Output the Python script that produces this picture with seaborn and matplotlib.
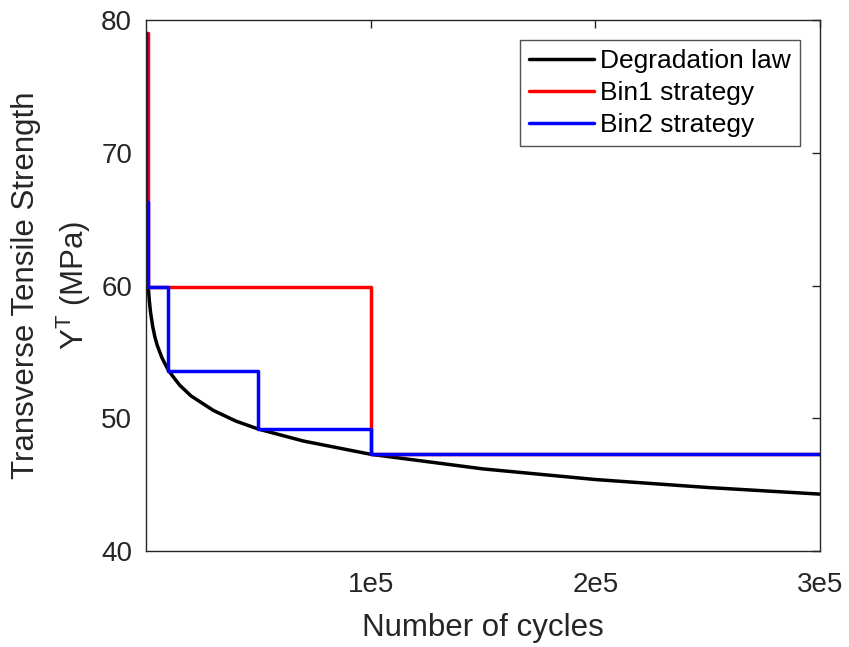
import numpy as np
import pandas as pd
import matplotlib
matplotlib.use("Agg")
import matplotlib.pyplot as plt
import seaborn as sns

# Degradation law
law_cycles = [1000, 1500, 2000, 3000, 4000, 5000, 7000, 10000, 15000, 20000, 30000,
              40000, 50000, 70000, 100000, 150000, 200000, 250000, 300000]
law_strength = [59.9, 58.8, 58.0, 56.9, 56.1, 55.5, 54.6, 53.6, 52.5, 51.7, 50.6,
                49.8, 49.2, 48.3, 47.3, 46.2, 45.4, 44.8, 44.3]

# Bin1 strategy step edges and levels
bin1_edges = [0, 1000, 100000, 300000]
bin1_levels = [79.0, 59.9, 47.3]

# Bin2 strategy step edges and levels
bin2_edges = [0, 100, 1000, 10000, 50000, 100000, 300000]
bin2_levels = [79.0, 66.3, 59.9, 53.6, 49.2, 47.3]

def steps(edges, levels):
    xs, ys = [], []
    for i, lv in enumerate(levels):
        xs += [edges[i], edges[i + 1]]
        ys += [lv, lv]
    return xs, ys

sns.set_theme(style="white")
plt.rcParams['font.family'] = ['Liberation Sans', 'DejaVu Sans']
plt.rcParams['mathtext.fontset'] = 'custom'
plt.rcParams['mathtext.rm'] = 'Liberation Sans'
tc = '#262626'

fig, ax = plt.subplots(figsize=(8.49, 6.47), dpi=100)
fig.subplots_adjust(left=0.172, right=0.966, top=0.969, bottom=0.148)

lw = 2.5
df_law = pd.DataFrame({'x': law_cycles, 'y': law_strength})
sns.lineplot(data=df_law, x='x', y='y', ax=ax, color='black', lw=lw,
             label='Degradation law', sort=False, estimator=None)
x1, y1 = steps(bin1_edges, bin1_levels)
sns.lineplot(x=x1, y=y1, ax=ax, color='#ff0000', lw=lw, label='Bin1 strategy',
             sort=False, estimator=None)
x2, y2 = steps(bin2_edges, bin2_levels)
sns.lineplot(x=x2, y=y2, ax=ax, color='#0000ff', lw=lw, label='Bin2 strategy',
             sort=False, estimator=None)

ax.set_xlim(0, 300000)
ax.set_ylim(40, 80)
ax.set_xticks([100000, 200000, 300000])
ax.set_xticklabels(['1e5', '2e5', '3e5'])
ax.set_yticks([40, 50, 60, 70, 80])
ax.tick_params(direction='in', length=6, width=1, colors=tc, labelsize=20,
               top=True, right=True, labelcolor=tc)
ax.tick_params(axis='x', pad=15)
ax.tick_params(axis='y', pad=10)
for s in ax.spines.values():
    s.set_color(tc)
    s.set_linewidth(1)
    s.set_visible(True)
ax.set_xlabel('Number of cycles', fontsize=22.5, color=tc, labelpad=11)
ax.set_ylabel('Transverse Tensile Strength\nY$^\\mathregular{T}$ (MPa)', fontsize=22.5,
              color=tc, linespacing=1.45, labelpad=6)
leg = ax.legend(loc='upper right', fontsize=19, frameon=True, fancybox=False,
                edgecolor=tc, handlelength=2.45, handletextpad=0.25,
                borderaxespad=0.75, labelspacing=0.3, borderpad=0.35)
leg.get_frame().set_linewidth(1)
for t in leg.get_texts():
    t.set_color('black')

fig.savefig('out.png', dpi=100)
